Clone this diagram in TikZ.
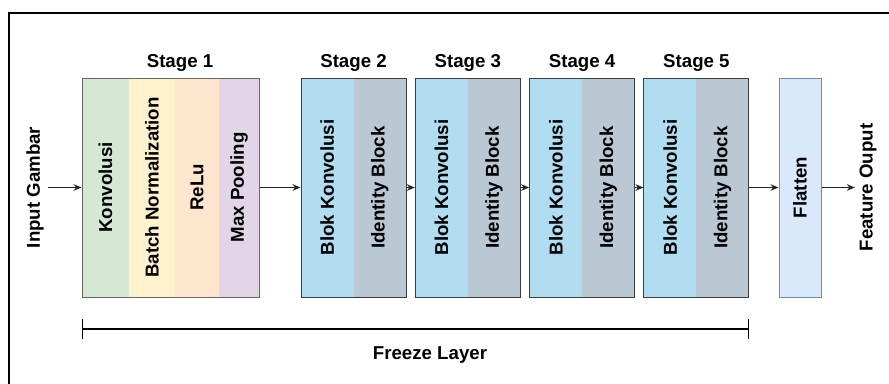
\documentclass[tikz,border=0pt]{standalone}
\usepackage{fontspec}
\setmainfont{Liberation Sans}
\usetikzlibrary{arrows.meta}

\definecolor{konv}{HTML}{D5E8D4}
\definecolor{batch}{HTML}{FFF2CC}
\definecolor{relu}{HTML}{FFE6CC}
\definecolor{pool}{HTML}{E1D5E7}
\definecolor{blok}{HTML}{B1DDF0}
\definecolor{ident}{HTML}{BAC8D3}
\definecolor{flat}{HTML}{DAE8FC}
\definecolor{flatedge}{HTML}{6C8EBF}
\definecolor{edge}{HTML}{3D3D3D}

\begin{document}
\begin{tikzpicture}[x=0.75pt,y=-0.75pt,
    every node/.style={font=\fontsize{14}{16}\selectfont\bfseries},
    layer/.style={rotate=90,inner sep=0pt,minimum width=164.25pt},
    stagebox/.style={draw=edge,line width=0.75pt,inner sep=0pt,minimum height=164.25pt,minimum width=78.75pt},
    flatbox/.style={layer,fill=flat,draw=flatedge,line width=0.75pt,minimum height=31.5pt},
    conn/.style={draw=black!85,line width=0.75pt,-{Stealth[length=6pt,width=5pt]}},
    freeze/.style={line width=1.5pt,{Bar[width=15pt,line width=0.9pt]}-{Bar[width=15pt,line width=0.9pt]}}]

      \useasboundingbox (0,0) rectangle (889,383);
      \draw [line width=1.1pt] (9,384) -- (9,13) -- (889,13);

        % stage 1
        \node[layer,fill=konv,minimum height=35.25pt] (konv) at (105.5,187.5) {Konvolusi};
        \node[layer,fill=batch,minimum height=34.5pt] (bn) at (152,187.5) {Batch Normalization};
        \node[layer,fill=relu,minimum height=33pt] (relu) at (197,187.5) {ReLu};
        \node[layer,fill=pool,minimum height=30pt] (pool) at (239,187.5) {Max Pooling};
        \node[stagebox,draw=black!60,minimum width=132.75pt] (s1) at (170.5,187.5) {};
        \node (t1) at (180,63) {Stage 1};

        % stage 2 - 5
        \node[layer,fill=blok,minimum height=39.375pt] (b2) at (327.25,187.5) {Blok Konvolusi};
        \node[layer,fill=ident,minimum height=39.375pt] (i2) at (379.75,187.5) {Identity Block};
        \node[stagebox] (s2) at (353.5,187.5) {};
        \node (t2) at (353.5,63) {Stage 2};

        \node[layer,fill=blok,minimum height=39.375pt] (b3) at (441.55,187.5) {Blok Konvolusi};
        \node[layer,fill=ident,minimum height=39.375pt] (i3) at (494.05,187.5) {Identity Block};
        \node[stagebox] (s3) at (467.8,187.5) {};
        \node (t3) at (467.8,63) {Stage 3};

        \node[layer,fill=blok,minimum height=39.375pt] (b4) at (555.85,187.5) {Blok Konvolusi};
        \node[layer,fill=ident,minimum height=39.375pt] (i4) at (608.35,187.5) {Identity Block};
        \node[stagebox] (s4) at (582.1,187.5) {};
        \node (t4) at (582.1,63) {Stage 4};

        \node[layer,fill=blok,minimum height=39.375pt] (b5) at (670.15,187.5) {Blok Konvolusi};
        \node[layer,fill=ident,minimum height=39.375pt] (i5) at (722.65,187.5) {Identity Block};
        \node[stagebox] (s5) at (696.4,187.5) {};
        \node (t5) at (696.4,63) {Stage 5};

        \node[flatbox] (flat) at (800,187.5) {Flatten};

        \node[rotate=90] (inp) at (35,187.5) {Input Gambar};
        \node[rotate=90] (out) at (868,187.5) {Feature Ouput};

        \draw[conn] (inp) -- (s1);
        \draw[conn] (s1) -- (s2);
        \draw[conn] (s2) -- (s3);
        \draw[conn] (s3) -- (s4);
        \draw[conn] (s4) -- (s5);
        \draw[conn] (s5) -- (flat);
        \draw[conn] (flat) -- (out);

        \coordinate (fzl) at (82,329);
        \coordinate (fzr) at (748.9,329);
        \draw[freeze] (fzl) -- (fzr);
        \node (fz) at (430,355) {Freeze Layer};

    \end{tikzpicture}
\end{document}
